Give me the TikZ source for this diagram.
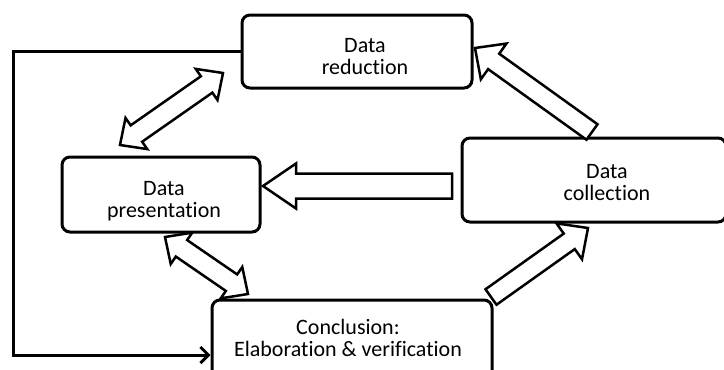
\documentclass[tikz,border=0pt]{standalone}
\usepackage{fontspec}
\setmainfont{Carlito}[Ligatures=NoCommon]
\usetikzlibrary{calc, arrows.meta}
\usetikzlibrary{positioning}

\begin{document}
\begin{tikzpicture}[x=1pt,y=-1pt,
        box/.style={draw, line width=3pt, rounded corners=8pt},
        txt/.style={align=center, inner sep=0pt, font=\fontsize{22}{22}\selectfont},
        headlen/.store in=\headlen, headwid/.store in=\headwid,
        shaftwid/.store in=\shaftwid,
        headlen=20pt, headwid=19pt, shaftwid=10pt,
        fat/.style={draw, fill=white, line width=2.5pt, line join=miter},
        oneway/.style={fat, to path={
            ($(\tikztostart)!\shaftwid!90:(\tikztotarget)$)
            -- ($(\tikztotarget)!\headlen!(\tikztostart)!\shaftwid!90:(\tikztotarget)$)
            -- ($(\tikztotarget)!\headlen!(\tikztostart)!\headwid!90:(\tikztotarget)$)
            -- (\tikztotarget)
            -- ($(\tikztotarget)!\headlen!(\tikztostart)!\headwid!-90:(\tikztotarget)$)
            -- ($(\tikztotarget)!\headlen!(\tikztostart)!\shaftwid!-90:(\tikztotarget)$)
            -- ($(\tikztostart)!\shaftwid!-90:(\tikztotarget)$)
            -- cycle}},
        twoway/.style={fat, to path={
            (\tikztostart)
            -- ($(\tikztostart)!\headlen!(\tikztotarget)!\headwid!90:(\tikztotarget)$)
            -- ($(\tikztostart)!\headlen!(\tikztotarget)!\shaftwid!90:(\tikztotarget)$)
            -- ($(\tikztotarget)!\headlen!(\tikztostart)!\shaftwid!90:(\tikztotarget)$)
            -- ($(\tikztotarget)!\headlen!(\tikztostart)!\headwid!90:(\tikztotarget)$)
            -- (\tikztotarget)
            -- ($(\tikztotarget)!\headlen!(\tikztostart)!\headwid!-90:(\tikztotarget)$)
            -- ($(\tikztotarget)!\headlen!(\tikztostart)!\shaftwid!-90:(\tikztotarget)$)
            -- ($(\tikztostart)!\headlen!(\tikztotarget)!\shaftwid!-90:(\tikztotarget)$)
            -- ($(\tikztostart)!\headlen!(\tikztotarget)!\headwid!-90:(\tikztotarget)$)
            -- cycle}}]
        \useasboundingbox (0,0) rectangle (724,370);
        \node[box, minimum width=230pt, minimum height=73pt] (red) at (357,51.5) {};
        \node[box, minimum width=198pt, minimum height=75pt] (pres) at (161,194.5) {};
        \node[box, minimum width=264pt, minimum height=84pt] (coll) at (594,180) {};
        \node[box, minimum width=280pt, minimum height=80pt] (concl) at (352,340) {};
        \node[txt] (redtxt) at (365,56.5) {Data\\reduction};
        \node[txt] (prestxt) at (164,201.5) {Data\\presentation};
        \node[txt] (colltxt) at (607,182.5) {Data\\collection};
        \node[txt] (concltxt) at (348,337.5) {Conclusion:\\Elaboration \& verification};
        \coordinate (rp1) at (120,145); \coordinate (rp2) at (223,73);
        \coordinate (pc1) at (165,237); \coordinate (pc2) at (248,294);
        \coordinate (cp1) at (452,186); \coordinate (cp2) at (263,186);
        \coordinate (cc1) at (491,297); \coordinate (cc2) at (588,228);
        \coordinate (cr1) at (592,132); \coordinate (cr2) at (475,48);
        \coordinate (fb) at (13,200);
        \draw[twoway] (rp1) to (rp2);
        \draw[twoway] (pc1) to (pc2);
        \draw[oneway, headlen=33pt, headwid=22.5pt, shaftwid=12.5pt] (cp1) to (cp2);
        \draw[oneway, headlen=23pt, headwid=22pt, shaftwid=9.5pt] (cc1) to (cc2);
        \draw[oneway, headlen=23pt, headwid=22pt, shaftwid=9.5pt] (cr1) to (cr2);
        \draw[line width=3pt, -{Straight Barb[length=8pt,width=16pt]}]
            (red.west) -| (fb) |- ([yshift=-15pt]concl.west);
\end{tikzpicture}
\end{document}
